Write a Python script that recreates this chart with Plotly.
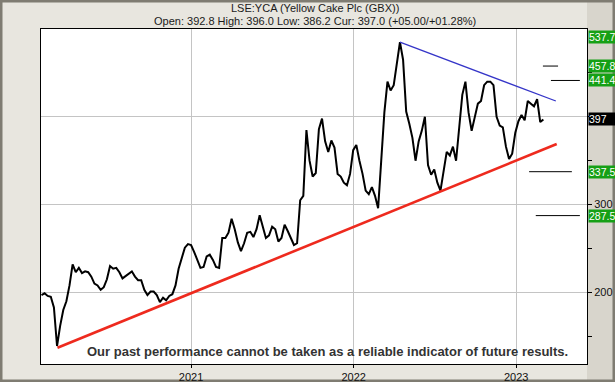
import pandas as pd
import plotly.graph_objects as go

# ---- data ----
start_date = "2020-01-31"
price_values = [
    197, 199, 196, 195, 183, 139, 162, 180, 190, 208,
    232, 223, 228, 222, 224, 223, 218, 210, 208, 203,
    206, 215, 230, 227, 228, 223, 216, 219, 221, 224,
    218, 214, 214, 203, 197, 201, 201, 197, 189, 194,
    191, 196, 198, 208, 227, 240, 251, 255, 254, 246,
    236, 228, 229, 241, 243, 237, 229, 228, 262, 262,
    268, 284, 272, 257, 247, 256, 268, 269, 263, 272,
    288, 274, 262, 265, 275, 272, 258, 262, 277, 270,
    261, 254, 256, 305, 310, 385, 350, 332, 336, 386,
    398, 372, 360, 373, 365, 335, 332, 325, 322, 335,
    362, 368, 350, 335, 316, 312, 320, 310, 296, 355,
    405, 440, 430, 436, 462, 485, 465, 406, 392, 376,
    350, 372, 384, 400, 345, 334, 340, 325, 316, 336,
    360, 356, 366, 350, 392, 425, 440, 405, 384, 399,
    415, 418, 436, 440, 440, 436, 400, 390, 388, 366,
    352, 358, 382, 395, 402, 396, 418, 415, 412, 420,
    394, 397,
]

red_dates = ["2020-03-07", "2023-04-02"]
red_values = [137, 369]
blue_dates = ["2022-04-15", "2023-03-31"]
blue_values = [485, 418]

level_values = [457.8, 441.4, 337.5, 287.5]
level_starts = ["2023-03-02", "2023-03-20", "2023-01-30", "2023-02-14"]
level_ends = ["2023-04-05", "2023-05-24", "2023-05-06", "2023-05-24"]

label_values = [537.7, 457.8, 441.4, 337.5, 287.5]
label_texts = ["537.7", "457.8", "441.4", "337.5", "287.5"]
current_value = 397
current_text = "397"

year_ticks = ["2021-01-01", "2022-01-01", "2023-01-01"]
year_labels = ["2021", "2022", "2023"]
y_major = [200, 300, 400]
y_major_text = ["200", "300", ""]
y_minor = [150, 250, 350, 450]

title_line1 = "LSE:YCA (Yellow Cake Plc (GBX))"
title_line2 = "Open: 392.8 High: 396.0 Low: 386.2 Cur: 397.0 (+05.00/+01.28%)"
disclaimer = "Our past performance cannot be taken as a reliable indicator of future results."

X_RANGE = ["2020-01-30", "2023-06-09"]
Y_RANGE = [118.5, 500]

dates = pd.date_range(start_date, periods=len(price_values), freq="7D")

fig = go.Figure()

fig.add_trace(go.Scatter(x=dates, y=price_values, mode="lines",
                         line=dict(color="black", width=2), hoverinfo="skip"))
fig.add_trace(go.Scatter(x=red_dates, y=red_values, mode="lines",
                         line=dict(color="#ee2a1e", width=2.6), hoverinfo="skip"))
fig.add_trace(go.Scatter(x=blue_dates, y=blue_values, mode="lines",
                         line=dict(color="#3535c8", width=1.3), hoverinfo="skip"))
for v, s, e in zip(level_values, level_starts, level_ends):
    fig.add_trace(go.Scatter(x=[s, e], y=[v, v], mode="lines",
                             line=dict(color="black", width=1), hoverinfo="skip"))

W_PLOT = 546
H_PLOT = 335
shapes = [
    dict(type="rect", xref="paper", yref="paper", x0=1.0, x1=1.0 + 28 / W_PLOT,
         y0=-18 / H_PLOT, y1=1 + 29 / H_PLOT, fillcolor="#d8d5cc", line=dict(width=0), layer="below"),
    dict(type="rect", xref="paper", yref="paper",
         x0=-41 / W_PLOT, x1=1 + 28 / W_PLOT, y0=-18 / H_PLOT, y1=1 + 29 / H_PLOT,
         line=dict(color="#7f7c72", width=5), fillcolor="rgba(0,0,0,0)", layer="below"),
]

lab_font = dict(color="white", size=10.5, family="Liberation Sans")
annotations = []
for v, t in zip(label_values, label_texts):
    if v > Y_RANGE[1]:
        annotations.append(dict(xref="paper", yref="paper", x=1, y=1, xanchor="left", yanchor="top",
                                text=t, showarrow=False, bgcolor="#16a016", borderpad=0,
                                font=lab_font, xshift=1, yshift=-1))
    else:
        annotations.append(dict(xref="paper", yref="y", x=1, y=v, xanchor="left", yanchor="middle",
                                text=t, showarrow=False, bgcolor="#16a016", borderpad=0,
                                font=lab_font, xshift=1))
annotations.append(dict(xref="paper", yref="y", x=1, y=current_value, xanchor="left", yanchor="middle",
                        text=current_text + "&nbsp;&nbsp;&nbsp;", showarrow=False, bgcolor="black",
                        borderpad=0, font=lab_font, xshift=1))
annotations.append(dict(xref="paper", yref="paper", x=0.502, y=1, yanchor="bottom", yshift=13,
                        text=title_line1, showarrow=False,
                        font=dict(color="#1a1a1a", size=11, family="Liberation Sans")))
annotations.append(dict(xref="paper", yref="paper", x=0.502, y=1, yanchor="bottom", yshift=0,
                        text=title_line2, showarrow=False,
                        font=dict(color="#1a1a1a", size=11, family="Liberation Sans")))
annotations.append(dict(xref="paper", yref="paper", x=0.525, y=0, yanchor="bottom", yshift=3,
                        text="<b>" + disclaimer + "</b>", showarrow=False,
                        font=dict(color="#333333", size=13, family="Liberation Sans")))

fig.update_layout(
    width=615, height=382,
    margin=dict(l=41, r=28, t=29, b=18, pad=0),
    paper_bgcolor="#e8e6df",
    plot_bgcolor="white",
    showlegend=False,
    shapes=shapes,
    annotations=annotations,
    xaxis=dict(range=X_RANGE, type="date", tickvals=year_ticks, ticktext=year_labels,
               automargin=False,
               showgrid=True, gridcolor="#c4c4c4", gridwidth=1,
               showline=True, linecolor="black", linewidth=1, mirror=True,
               ticks="outside", ticklen=3, tickcolor="black",
               tickfont=dict(size=11, color="#111", family="Liberation Sans"), zeroline=False),
    yaxis=dict(range=Y_RANGE, side="right", tickvals=y_major, ticktext=y_major_text,
               automargin=False,
               showgrid=True, gridcolor="#c4c4c4", gridwidth=1,
               showline=True, linecolor="black", linewidth=1, mirror=True,
               ticks="outside", ticklen=4, tickcolor="black",
               minor=dict(tickvals=y_minor, ticks="outside", ticklen=4, tickcolor="black", showgrid=False),
               tickfont=dict(size=11, color="#111", family="Liberation Sans"), zeroline=False),
)

fig.write_html("out.html", config={"displayModeBar": False},
               post_script="document.body.style.margin='0px';document.body.style.overflow='hidden';")
